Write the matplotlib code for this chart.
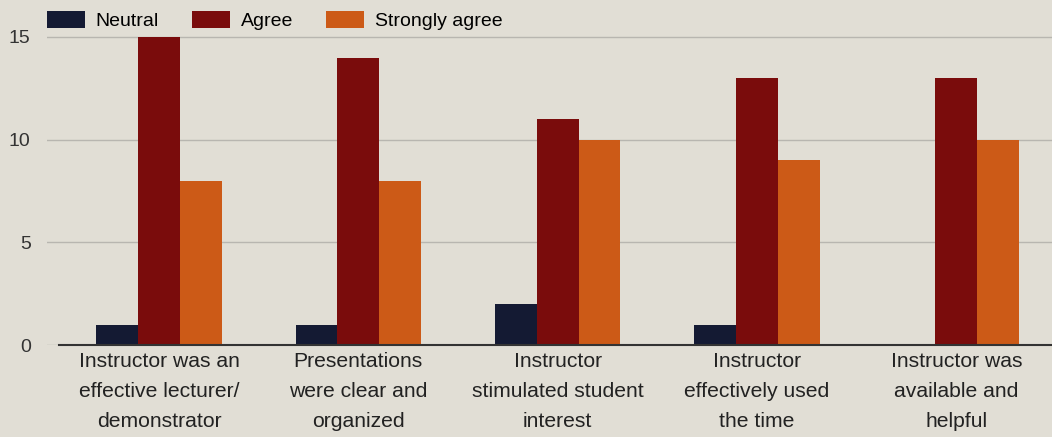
import matplotlib.pyplot as plt
import numpy as np

plt.rcParams['font.family'] = ['Liberation Sans', 'DejaVu Sans']

categories = ['Instructor was an\neffective lecturer/\ndemonstrator',
              'Presentations\nwere clear and\norganized',
              'Instructor\nstimulated student\ninterest',
              'Instructor\neffectively used\nthe time',
              'Instructor was\navailable and\nhelpful']
neutral = [1, 1, 2, 1, 0]
agree = [15, 14, 11, 13, 13]
strongly_agree = [8, 8, 10, 9, 10]

series = [('Neutral', neutral, '#141a33'),
          ('Agree', agree, '#7a0c0c'),
          ('Strongly agree', strongly_agree, '#cc5a17')]

bg = '#e1ded5'
fig = plt.figure(figsize=(10.52, 4.37), dpi=100, facecolor=bg)
ax = fig.add_axes([0.045, 0.21, 0.955, 0.79], facecolor=bg)

x = np.arange(len(categories))
w = 0.21
for i, (name, vals, col) in enumerate(series):
    ax.bar(x + (i - 1) * w, vals, w, color=col, label=name, zorder=3)

ax.set_xlim(-0.56, 4.48)
ax.set_ylim(0, 16.8)
ax.set_yticks([0, 5, 10, 15])
ax.set_xticks(x)
ax.set_xticklabels(categories, fontsize=15.2, color='#222222', linespacing=1.72)
ax.tick_params(axis='y', labelsize=14, colors='#333333', length=0, pad=12)
ax.tick_params(axis='x', length=0, pad=5)
ax.grid(axis='y', color='#b8b6b0', linewidth=1, zorder=0)
for s in ['top', 'right', 'left', 'bottom']:
    ax.spines[s].set_visible(False)
# baseline starts a little right of the gridlines
ax.plot([-0.5, 4.48], [0, 0], color='#333333', linewidth=1.5, zorder=4, clip_on=False)

ax.legend(loc='upper left', bbox_to_anchor=(-0.011, 1.0), ncol=3, frameon=False,
          fontsize=14, handlelength=1.95, handleheight=1.0, columnspacing=1.7,
          handletextpad=0.55, borderaxespad=0.15)

fig.savefig('out.png', dpi=100, facecolor=bg)
